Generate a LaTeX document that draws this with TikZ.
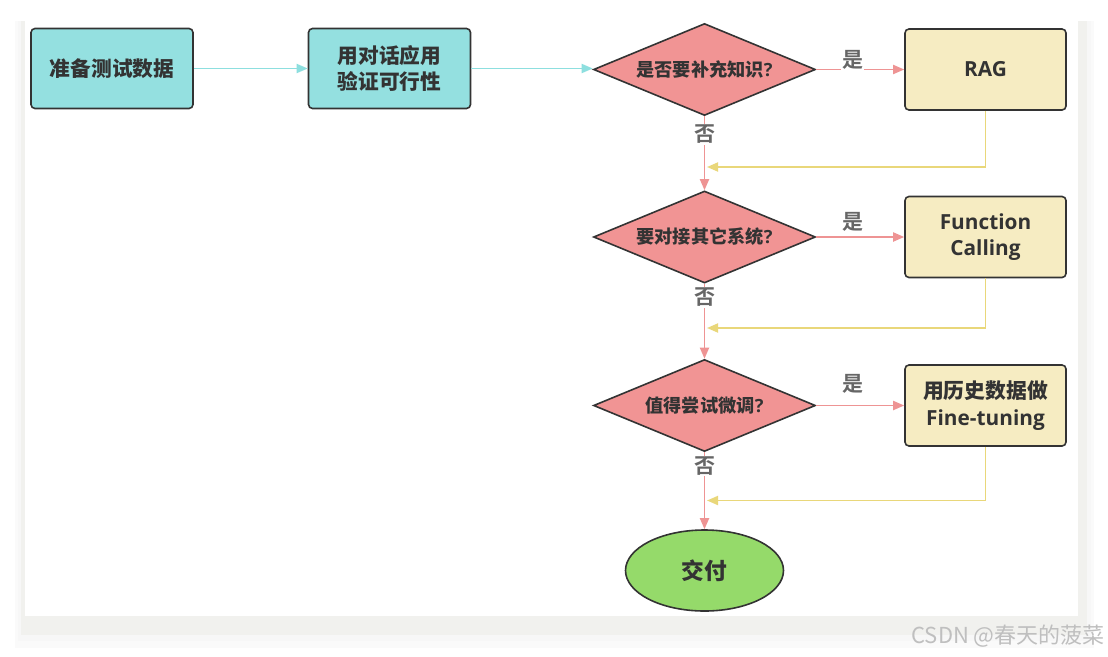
\documentclass[tikz,border=0pt]{standalone}
\usepackage{fontspec}
\setmainfont{Open Sans}
\newfontfamily\cjk{Noto Sans CJK SC Bold}
\newfontfamily\cjkr{Noto Sans CJK SC}
\usetikzlibrary{shapes.geometric,arrows.meta}
\definecolor{cyanf}{HTML}{94E0E0}
\definecolor{pinkf}{HTML}{F19494}
\definecolor{yelf}{HTML}{F6ECC2}
\definecolor{greenf}{HTML}{95DA6A}
\definecolor{cyanl}{HTML}{8DDFDF}
\definecolor{pinkl}{HTML}{EE9494}
\definecolor{yell}{HTML}{E9D77A}
\definecolor{txt}{HTML}{333333}
\definecolor{lbl}{HTML}{666666}
\definecolor{frame}{HTML}{F1F1EE}
\tikzset{
  shape base/.style={draw=txt, line width=1.6pt, text=txt, align=center, inner sep=0pt},
  cbox/.style={shape base, rectangle, rounded corners=4pt, fill=cyanf, minimum width=162pt, minimum height=80pt, font=\fontsize{20.7}{26}\selectfont\bfseries},
  ybox/.style={shape base, rectangle, rounded corners=4pt, fill=yelf, minimum width=161pt, minimum height=81pt, font=\fontsize{20.8}{26.5}\selectfont\bfseries},
  dia/.style={shape base, diamond, fill=pinkf, minimum width=222pt, minimum height=92pt, aspect=2.42, font=\fontsize{18.2}{20}\selectfont\bfseries},
  endnode/.style={shape base, ellipse, fill=greenf, minimum width=158pt, minimum height=81pt, font=\fontsize{22.7}{26}\selectfont\bfseries},
  lab/.style={text=lbl, fill=white, inner sep=1pt, font=\fontsize{21}{24}\selectfont\cjk},
  conn/.style={line width=1.8pt, -{Triangle[length=11pt,width=9pt]}},
  cyanarrow/.style={conn, draw=cyanl},
  pinkarrow/.style={conn, draw=pinkl},
  yelarrow/.style={conn, draw=yell},
}
\begin{document}
\begin{tikzpicture}[x=1pt,y=-1pt]
\useasboundingbox (0,0) rectangle (1108,656);
\fill[white] (0,0) rectangle (1108,656);
% frame and shadow
\fill[black!2] (15,21) rectangle (1094,648);
\fill[black!3] (18,21) rectangle (1091,641);
\fill[frame] (21,21) rectangle (1087,635);
\fill[white] (25,21) rectangle (1078,616);

% nodes
\node[cbox] (b1) at (112,68.5) {\cjk 准备测试数据};
\node[cbox] (b2) at (389.5,68.5) {\cjk 用对话应用\\\cjk 验证可行性};
\node[dia] (d1) at (704.5,69.5) {{\cjk 是否要补充知识}?};
\node[dia] (d2) at (704.5,237) {{\cjk 要对接其它系统}?};
\node[dia] (d3) at (704.5,405.5) {{\cjk 值得尝试微调}?};
\node[ybox] (rag) at (985.5,69.5) {RAG};
\node[ybox] (fc) at (985.5,237) {Function\\Calling};
\node[ybox] (ft) at (985.5,405.5) {\cjk 用历史数据做\\Fine-tuning};
\node[endnode] (end) at (704.5,570.5) {\cjk 交付};

% join points
\coordinate (j1) at (707,167);
\coordinate (j2) at (707,328);
\coordinate (j3) at (707,500.5);

% connectors
\draw[cyanarrow] (b1) -- (b2);
\draw[cyanarrow] (b2) -- (d1.west |- b2);
\draw[pinkarrow] (d1) -- (rag);
\draw[pinkarrow] (d2) -- (fc);
\draw[pinkarrow] (d3) -- (ft);
\draw[pinkarrow] (d1) -- (d2);
\draw[pinkarrow] (d2) -- (d3);
\draw[pinkarrow] (d3) -- (end);
\draw[yelarrow] (rag.south) |- (j1);
\draw[yelarrow] (fc.south) |- (j2);
\draw[yelarrow] (ft.south) |- (j3);

% labels
\node[lab] (y1) at (852.5,60) {是};
\node[lab] (y2) at (852.5,222) {是};
\node[lab] (y3) at (852.5,383.5) {是};
\node[lab] (n1) at (704.5,134.5) {否};
\node[lab] (n2) at (704.5,297.5) {否};
\node[lab] (n3) at (704.5,466) {否};

% watermark
\node[text=black!25, font=\fontsize{22}{24}\selectfont\cjkr, anchor=east, inner sep=0pt] (wm) at (1105,636) {CSDN @春天的菠菜};
\end{tikzpicture}
\end{document}
